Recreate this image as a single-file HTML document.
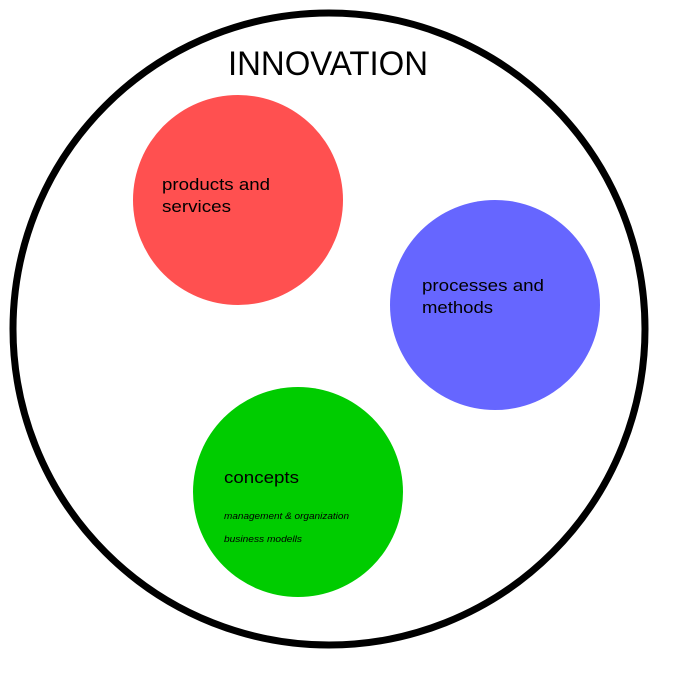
<!DOCTYPE html>
<html><head><style>body{margin:0;background:#fff}svg{display:block}</style></head>
<body>
<svg width="700" height="700" viewBox="0 0 700 700" xmlns="http://www.w3.org/2000/svg" font-family="Liberation Sans, sans-serif">
<rect width="700" height="700" fill="#fff"/>
<circle cx="329" cy="329" r="316" fill="none" stroke="#000" stroke-width="7"/>
<text x="228" y="75" font-size="34" textLength="200" lengthAdjust="spacingAndGlyphs">INNOVATION</text>
<circle cx="238" cy="200" r="105" fill="#ff5050"/>
<text x="162" y="190" font-size="17" textLength="108" lengthAdjust="spacingAndGlyphs">products and</text>
<text x="162" y="212" font-size="17" textLength="69" lengthAdjust="spacingAndGlyphs">services</text>
<circle cx="495" cy="305" r="105" fill="#6666ff"/>
<text x="422" y="291" font-size="17" textLength="122" lengthAdjust="spacingAndGlyphs">processes and</text>
<text x="422" y="313" font-size="17" textLength="71" lengthAdjust="spacingAndGlyphs">methods</text>
<circle cx="298" cy="492" r="105" fill="#00cc00"/>
<text x="224" y="483" font-size="17" textLength="75" lengthAdjust="spacingAndGlyphs">concepts</text>
<text x="224" y="519" font-size="9.5" font-style="italic" textLength="125" lengthAdjust="spacingAndGlyphs">management &amp; organization</text>
<text x="224" y="542" font-size="9.5" font-style="italic" textLength="78" lengthAdjust="spacingAndGlyphs">business modells</text>
</svg>
</body></html>
